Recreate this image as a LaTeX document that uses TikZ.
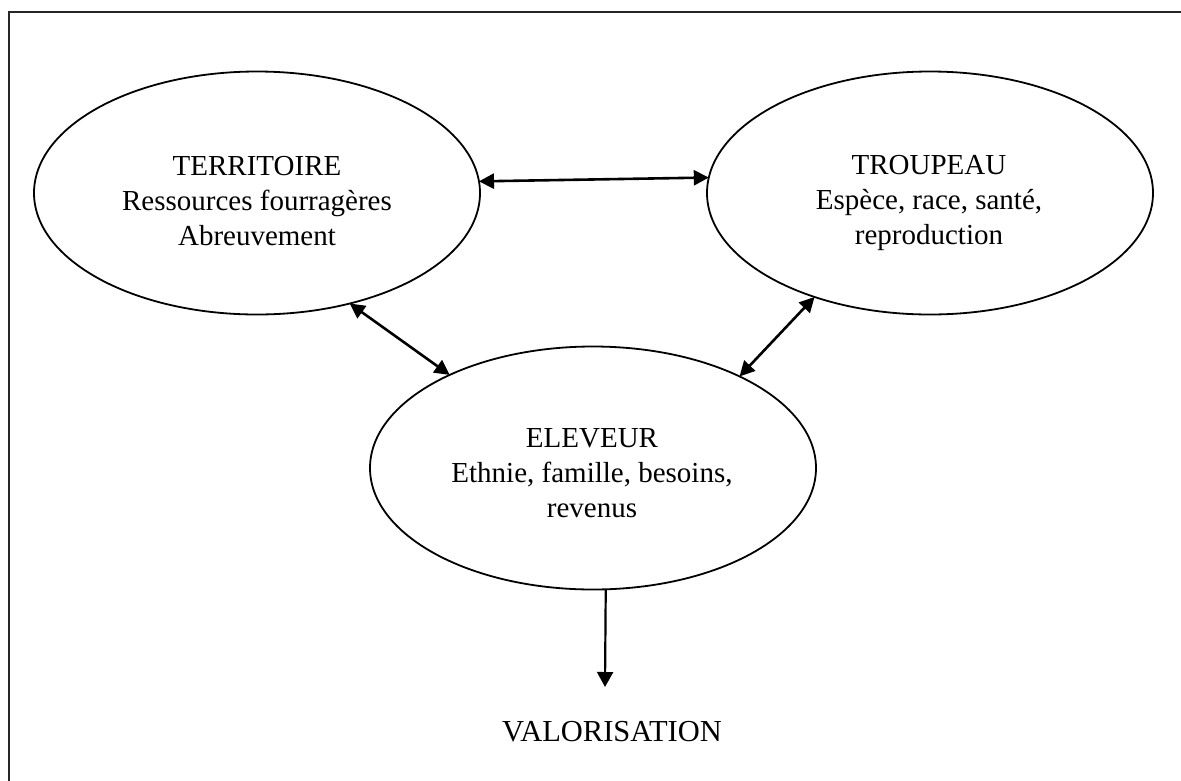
\documentclass[tikz,border=0pt]{standalone}
\usepackage{fontspec}
\setmainfont{Liberation Serif}
\usetikzlibrary{arrows.meta,shapes.geometric}
\tikzset{
  bubble/.style={ellipse, draw, line width=1.8pt, minimum width=446pt, minimum height=243pt, inner sep=0pt, outer sep=0pt},
  lbl/.style={align=center, inner sep=0pt, font=\fontsize{29}{35}\selectfont},
  link/.style={line width=2.6pt, {Triangle[length=15pt,width=15pt]}-{Triangle[length=15pt,width=15pt]}},
  oneway/.style={line width=2.2pt, -{Triangle[length=15pt,width=16pt]}},
}
\begin{document}
\begin{tikzpicture}[x=1pt,y=-1pt]
\useasboundingbox (0,0) rectangle (1181,780);
\begin{scope}
\clip (0,0) rectangle (1181,780);
\draw[line width=2pt, black!85] (9,12) rectangle (1200,800);
\end{scope}
\node[bubble] (terr) at (257,193) {};
\node[bubble] (trou) at (930,193) {};
\node[bubble] (elev) at (593,468) {};
\node[lbl] (terrtxt) at (257,201) {TERRITOIRE\\Ressources fourragères\\Abreuvement};
\node[lbl] (troutxt) at (929,203) {TROUPEAU\\Espèce, race, santé,\\reproduction};
\node[lbl] (elevtxt) at (592,473) {ELEVEUR\\Ethnie, famille, besoins,\\revenus};
\node[inner sep=0pt, font=\fontsize{30.5}{36}\selectfont] (valo) at (612,731.5) {VALORISATION};
\coordinate (vtip) at (605,687);
\draw[link] (terr.3) -- (trou.176);
\draw[link] (terr.-50.6) -- (elev.147);
\draw[link] (trou.222) -- (elev.32);
\draw[oneway] (elev.-84.4) -- (vtip);
\end{tikzpicture}
\end{document}
